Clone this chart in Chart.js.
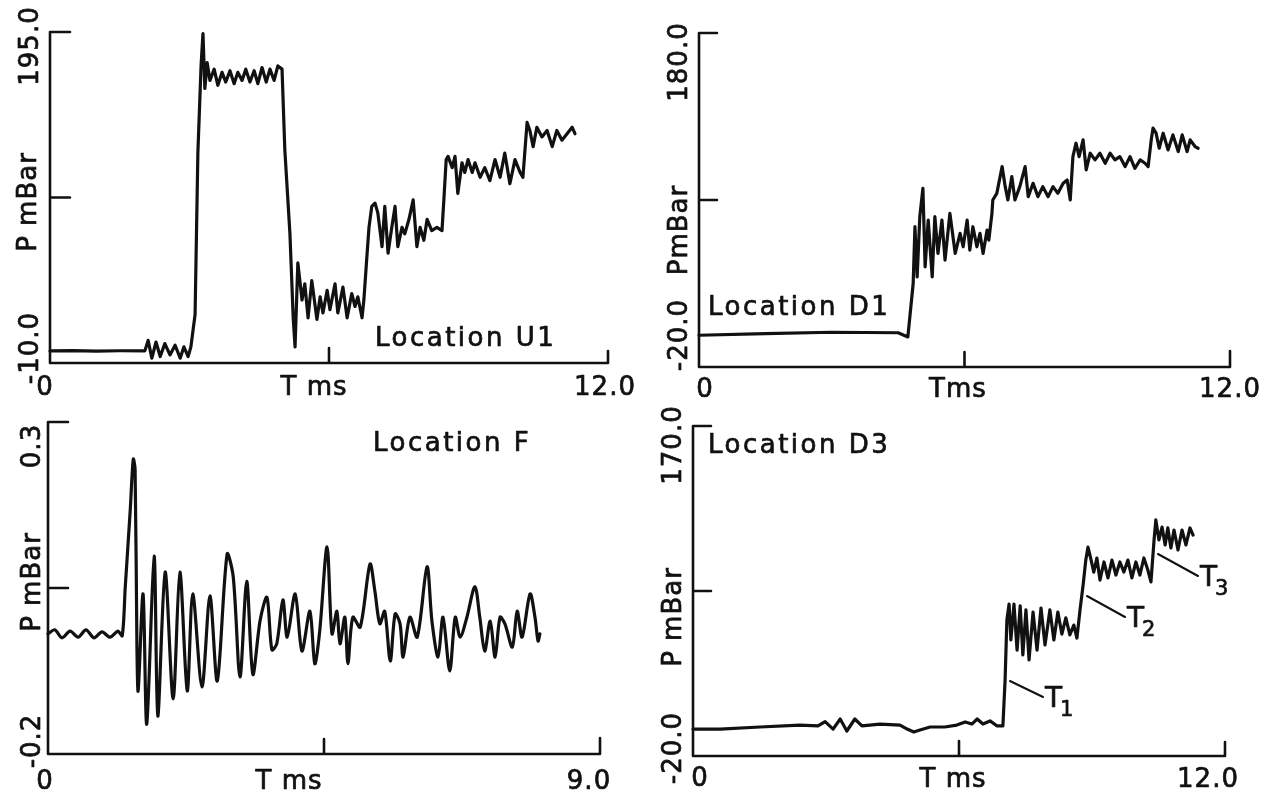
<!DOCTYPE html>
<html>
<head>
<meta charset="utf-8">
<title>Pressure traces</title>
<script src="https://cdn.jsdelivr.net/npm/chart.js@4.4.1/dist/chart.umd.min.js"></script>
<style>
  html, body { margin: 0; padding: 0; background: #fff; }
  #sheet { position: relative; width: 1274px; height: 804px; overflow: hidden; }
  #sheet canvas { position: absolute; left: 0; top: 0; }
</style>
</head>
<body>
<div id="sheet">
  <canvas id="chartU1" width="1274" height="804"></canvas>
  <canvas id="chartD1" width="1274" height="804"></canvas>
  <canvas id="chartF" width="1274" height="804"></canvas>
  <canvas id="chartD3" width="1274" height="804"></canvas>
</div>
<script>
// ---- Location U1 (top left) ----
const u1Title = 'Location U1';
const u1TimeRange = [0, 12];
const u1PressureRange = [-10, 195];
const u1YLabels = ['195.0', 'P mBar', '-10.0'];
const u1XLabels = ['0', 'T ms', '12.0'];
const u1Time = [
  0, 0.5, 1.0, 1.5, 2.04,
  2.11, 2.19, 2.28, 2.37, 2.47, 2.58, 2.69, 2.80, 2.88, 2.97, 3.03,
  3.12, 3.18, 3.25, 3.29, 3.33, 3.38,
  3.44, 3.53, 3.61, 3.70, 3.78, 3.87, 3.96, 4.04, 4.13, 4.21, 4.30, 4.39, 4.47, 4.56, 4.65, 4.73, 4.82, 4.90, 4.99,
  5.05, 5.16, 5.23, 5.27, 5.33, 5.42, 5.48, 5.55, 5.63, 5.74, 5.81, 5.87, 5.96, 6.02, 6.13, 6.19, 6.30, 6.39, 6.49, 6.56, 6.62, 6.71, 6.75,
  6.82, 6.86, 6.92, 6.99, 7.05, 7.14, 7.20, 7.27, 7.35, 7.42, 7.48, 7.57, 7.63, 7.72, 7.81, 7.89, 7.96, 8.04, 8.11, 8.21, 8.32, 8.43,
  8.47, 8.52, 8.56, 8.65, 8.71, 8.77, 8.86, 8.92, 8.99, 9.08, 9.14, 9.25, 9.35, 9.46, 9.57, 9.68, 9.78, 9.89, 10.00, 10.11, 10.17,
  10.22, 10.26, 10.32, 10.39, 10.47, 10.58, 10.69, 10.80, 10.90, 11.01, 11.12, 11.23, 11.29
];
const u1Pressure = [
  -2.5, -2.3, -2.6, -2.4, -2.5,
  4, -7, 3, -6, 2, -5, 1, -7, 0, -6, 0,
  20, 120, 175, 194, 160, 176,
  165, 172, 162, 170, 164, 171, 163, 170, 165, 172, 164, 171, 163, 173, 164, 172, 165, 174, 172,
  122, 70, 18, 0, 52, 29, 39, 18, 41, 17, 31, 21, 35, 23, 39, 21, 37, 18, 33, 25, 31, 18, 29,
  58, 74, 87, 89, 83, 62, 87, 58, 74, 87, 62, 74, 70, 79, 91, 62, 74, 66, 79, 72, 74, 72,
  91, 116, 118, 111, 118, 95, 114, 108, 116, 108, 114, 105, 111, 103, 116, 105, 120, 101, 116, 108, 105,
  124, 139, 134, 124, 136, 130, 134, 124, 134, 128, 132, 136, 132
];

// ---- Location D1 (top right) ----
const d1Title = 'Location D1';
const d1TimeRange = [0, 12];
const d1PressureRange = [-20, 180];
const d1YLabels = ['180.0', 'PmBar', '-20.0'];
const d1XLabels = ['0', 'Tms', '12.0'];
const d1Time = [
  0, 1.5, 3.0, 4.5, 4.72,
  4.84, 4.88, 4.93, 4.99, 5.06, 5.11, 5.18, 5.27, 5.33, 5.40, 5.49, 5.56, 5.67, 5.79, 5.90, 5.97, 6.06, 6.12, 6.19, 6.28, 6.35, 6.42, 6.51, 6.55,
  6.62, 6.64, 6.73, 6.85, 6.92, 6.98, 7.07, 7.14, 7.25, 7.37, 7.44, 7.55, 7.66, 7.77, 7.89, 8.00, 8.11, 8.23, 8.32, 8.39,
  8.45, 8.52, 8.59, 8.68, 8.75, 8.84, 8.95, 9.06, 9.18, 9.29, 9.40, 9.51, 9.63, 9.74, 9.85, 9.97, 10.08, 10.15,
  10.22, 10.26, 10.33, 10.40, 10.49, 10.60, 10.71, 10.83, 10.92, 11.03, 11.10, 11.21, 11.28
];
const d1Pressure = [
  -1, 0, 0.8, 0.5, -2,
  30, 64, 34, 70, 87, 40, 68, 34, 70, 48, 68, 44, 72, 48, 60, 52, 68, 50, 64, 52, 60, 48, 62, 56,
  72, 80, 84, 100, 88, 80, 94, 80, 88, 100, 82, 90, 82, 88, 82, 88, 84, 90, 92, 80,
  106, 114, 106, 116, 98, 108, 104, 108, 102, 108, 104, 106, 100, 106, 99, 104, 102, 100,
  116, 123, 120, 111, 120, 110, 119, 109, 119, 109, 116, 112, 111
];

// ---- Location F (bottom left) ----
const fTitle = 'Location F';
const fTimeRange = [0, 9];
const fPressureRange = [-0.2, 0.3];
const fYLabels = ['0.3', 'P mBar', '-0.2'];
const fXLabels = ['0', 'T ms', '9.0'];
const fTime = [
  0, 0.11, 0.23, 0.36, 0.49, 0.62, 0.75, 0.88, 1.01, 1.14, 1.21,
  1.26, 1.34, 1.39, 1.42, 1.45, 1.47, 1.55, 1.61, 1.73, 1.79, 1.91, 2.04, 2.15, 2.27, 2.36, 2.51, 2.64, 2.76, 2.92, 3.02, 3.13, 3.24, 3.34,
  3.46, 3.57, 3.65, 3.73, 3.83, 3.90, 4.03, 4.14, 4.27, 4.35, 4.43, 4.55, 4.63, 4.71, 4.76, 4.84, 4.89, 4.97, 5.09, 5.25, 5.33, 5.41, 5.49, 5.58, 5.66, 5.74, 5.79, 5.90, 6.02,
  6.18, 6.26, 6.36, 6.44, 6.55, 6.64, 6.72, 6.83, 6.96, 7.04, 7.12, 7.21, 7.29, 7.37, 7.45, 7.57, 7.65, 7.73, 7.86, 7.94, 7.99, 8.02
];
const fPressure = [
  -0.019, -0.013, -0.025, -0.015, -0.024, -0.013, -0.025, -0.016, -0.024, -0.015, -0.022,
  0.052, 0.166, 0.244, 0.228, -0.039, -0.105, 0.041, -0.155, 0.098, -0.143, 0.074, -0.117, 0.074, -0.105, 0.041, -0.099, 0.038, -0.090, 0.101, 0.067, -0.084, 0.060, -0.080,
  0.002, 0.036, -0.043, -0.034, 0.032, -0.024, 0.041, -0.045, 0.015, -0.064, -0.015, 0.112, -0.019, 0.015, -0.034, 0.006, -0.064, 0.006, -0.009, 0.086, 0.045, -0.004, 0.015, -0.060, 0.011, -0.004, -0.054, 0.006, -0.024,
  0.082, 0.000, -0.054, 0.006, -0.075, 0.006, -0.024, 0.006, 0.052, 0.006, -0.045, 0.000, -0.054, 0.006, -0.004, -0.039, 0.015, -0.024, 0.041, 0.006, -0.030, -0.019
];

// ---- Location D3 (bottom right) ----
const d3Title = 'Location D3';
const d3TimeRange = [0, 12];
const d3PressureRange = [-20, 170];
const d3YLabels = ['170.0', 'P mBar', '-20.0'];
const d3XLabels = ['0', 'T ms', '12.0'];
const d3Markers = ['1', '2', '3'];
const d3Time = [
  0, 0.61, 1.51, 2.41, 2.82, 2.98, 3.16, 3.32, 3.47, 3.65, 3.81, 4.22, 4.67, 4.83, 4.98, 5.12, 5.35, 5.68, 5.95, 6.14, 6.29, 6.41, 6.54, 6.70, 6.86, 6.99,
  7.04, 7.08, 7.13, 7.17, 7.24, 7.31, 7.38, 7.44, 7.51, 7.58, 7.67, 7.76, 7.85, 7.94, 8.05, 8.14, 8.23, 8.32, 8.41, 8.50, 8.59, 8.66,
  8.73, 8.80, 8.86, 8.91, 8.98, 9.04, 9.11, 9.18, 9.27, 9.36, 9.45, 9.54, 9.63, 9.72, 9.81, 9.90, 9.99, 10.08, 10.17, 10.26, 10.33,
  10.40, 10.44, 10.51, 10.58, 10.65, 10.71, 10.78, 10.85, 10.94, 11.03, 11.12, 11.21, 11.28
];
const d3Pressure = [
  -4.5, -4.5, -3.3, -2.2, -2.7, -0.2, -4.5, 1.3, -5.6, 1.3, -2.7, -1.6, -2.2, -4.5, -6.2, -5.0, -3.3, -3.3, -2.2, -0.4, -1.6, 1.3, -1.6, 0.2, -2.7, -2.7,
  23.8, 58.3, 67.5, 46.8, 67.5, 41, 66.4, 38.2, 64.1, 35.3, 62.9, 41, 65.2, 43.9, 64.1, 46.8, 62.9, 50.2, 59.5, 49.7, 55.4, 47.9,
  64.1, 78.5, 92.8, 100.3, 92.8, 85.9, 94, 81.3, 91.7, 82.5, 92.8, 84.2, 91.7, 85.9, 92.8, 82.5, 91.7, 84.2, 94, 87.1, 80.2,
  104.4, 115.9, 104.4, 111.8, 101.5, 111.3, 99.8, 110.1, 98.6, 110.1, 101.5, 111.3, 107.2
];

const W = 1274, H = 804;
const INK = '#111';
const FONT = '"DejaVu Sans", "Liberation Sans", sans-serif';

// text a bit heavier, like the scanned lettering
function inkText(ctx, text, x, y) {
  ctx.fillText(text, x, y);
  ctx.strokeText(text, x, y);
}

function rotatedText(ctx, text, cx, cy) {
  ctx.save();
  ctx.translate(cx, cy);
  ctx.rotate(-Math.PI / 2);
  ctx.textAlign = 'center';
  ctx.textBaseline = 'middle';
  inkText(ctx, text, 0, 0);
  ctx.restore();
}

// draws the oscilloscope style frame, hooks, ticks and the labels
const scopeFrame = {
  id: 'scopeFrame',
  afterDraw(chart, args, o) {
    const { ctx, chartArea: a, scales: { x, y } } = chart;
    ctx.save();
    ctx.strokeStyle = INK;
    ctx.fillStyle = INK;
    ctx.lineWidth = 2.6;
    ctx.lineCap = 'round';
    ctx.lineJoin = 'round';

    const ym = y.getPixelForValue((y.min + y.max) / 2);
    const xm = x.getPixelForValue((x.min + x.max) / 2);
    ctx.beginPath();
    ctx.moveTo(a.left + o.hook, a.top);
    ctx.lineTo(a.left, a.top);
    ctx.lineTo(a.left, a.bottom);
    ctx.lineTo(a.right, a.bottom);
    ctx.lineTo(a.right, a.bottom - o.endTick);
    ctx.moveTo(a.left, ym);
    ctx.lineTo(a.left + o.hook, ym);
    ctx.moveTo(xm, a.bottom);
    ctx.lineTo(xm, a.bottom - 15);
    ctx.stroke();

    ctx.lineWidth = 0.7;

    // y labels, rotated
    ctx.font = '26px ' + FONT;
    ctx.letterSpacing = '1px';
    o.yLabels.forEach((txt, i) => rotatedText(ctx, txt, o.yText[i][0], o.yText[i][1]));

    // x labels
    ctx.textAlign = 'center';
    ctx.textBaseline = 'middle';
    o.xLabels.forEach((txt, i) => inkText(ctx, txt, o.xText[i][0], o.xText[i][1]));

    // location caption
    ctx.letterSpacing = '2.5px';
    ctx.textAlign = 'left';
    inkText(ctx, o.title, o.titlePos[0], o.titlePos[1]);

    // T1..T3 markers
    if (o.markers) {
      ctx.letterSpacing = '0px';
      o.markers.forEach((m, i) => {
        const p = o.markerPos[i];
        ctx.lineWidth = 2;
        ctx.beginPath();
        ctx.moveTo(p[0], p[1]);
        ctx.lineTo(p[2], p[3]);
        ctx.stroke();
        ctx.lineWidth = 0.7;
        ctx.textBaseline = 'alphabetic';
        ctx.font = '28px ' + FONT;
        inkText(ctx, 'T', p[4], p[5]);
        ctx.font = '21px ' + FONT;
        inkText(ctx, m, p[4] + 15, p[5] + 9);
      });
    }
    ctx.restore();
  }
};

const panels = [
  {
    canvas: 'chartU1', time: u1Time, pressure: u1Pressure, xr: u1TimeRange, yr: u1PressureRange, smooth: 0,
    area: { left: 50, top: 32, right: 608, bottom: 363 },
    frame: {
      title: u1Title, yLabels: u1YLabels, xLabels: u1XLabels, hook: 20, endTick: 12,
      yText: [[31, 46], [29, 202], [31, 348]],
      xText: [[45, 388], [314, 388], [605, 388]],
      titlePos: [375, 339]
    }
  },
  {
    canvas: 'chartD1', time: d1Time, pressure: d1Pressure, xr: d1TimeRange, yr: d1PressureRange, smooth: 0,
    area: { left: 699, top: 33, right: 1230, bottom: 367 },
    frame: {
      title: d1Title, yLabels: d1YLabels, xLabels: d1XLabels, hook: 18, endTick: 16,
      yText: [[680, 62], [680, 230], [680, 335]],
      xText: [[705, 390], [958, 390], [1230, 390]],
      titlePos: [708, 308]
    }
  },
  {
    canvas: 'chartF', time: fTime, pressure: fPressure, xr: fTimeRange, yr: fPressureRange, smooth: 0.3,
    area: { left: 48, top: 422, right: 600, bottom: 754 },
    frame: {
      title: fTitle, yLabels: fYLabels, xLabels: fXLabels, hook: 20, endTick: 16,
      yText: [[33, 446], [33, 582], [33, 741]],
      xText: [[45, 782], [289, 782], [589, 782]],
      titlePos: [373, 444]
    }
  },
  {
    canvas: 'chartD3', time: d3Time, pressure: d3Pressure, xr: d3TimeRange, yr: d3PressureRange, smooth: 0,
    area: { left: 693, top: 426, right: 1225, bottom: 756 },
    frame: {
      title: d3Title, yLabels: d3YLabels, xLabels: d3XLabels, hook: 18, endTick: 14,
      yText: [[674, 445], [674, 617], [674, 748]],
      xText: [[700, 779], [953, 780], [1208, 780]],
      titlePos: [708, 446],
      markers: d3Markers,
      markerPos: [
        [1010, 681, 1043, 697, 1045, 707],
        [1087, 596, 1125, 617, 1127, 627],
        [1158, 554, 1198, 576, 1200, 586]
      ]
    }
  }
];

panels.forEach((p) => {
  new Chart(document.getElementById(p.canvas), {
    type: 'line',
    data: {
      datasets: [{
        data: p.time.map((t, i) => ({ x: t, y: p.pressure[i] })),
        borderColor: INK,
        borderWidth: 3.2,
        borderJoinStyle: 'round',
        borderCapStyle: 'round',
        pointRadius: 0,
        tension: p.smooth,
        fill: false,
        clip: 6
      }]
    },
    options: {
      responsive: false,
      animation: false,
      events: [],
      layout: {
        padding: { left: p.area.left, top: p.area.top, right: W - p.area.right, bottom: H - p.area.bottom }
      },
      scales: {
        x: { type: 'linear', min: p.xr[0], max: p.xr[1], display: false },
        y: { type: 'linear', min: p.yr[0], max: p.yr[1], display: false }
      },
      plugins: {
        legend: { display: false },
        tooltip: { enabled: false },
        scopeFrame: p.frame
      }
    },
    plugins: [scopeFrame]
  });
});
</script>
</body>
</html>
